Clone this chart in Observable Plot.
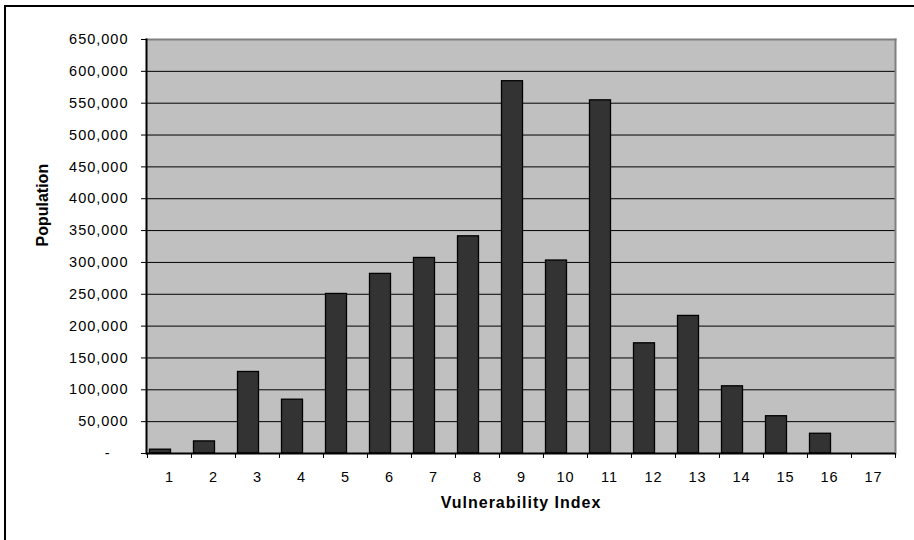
<!DOCTYPE html>
<html><head><meta charset="utf-8">
<script src="https://cdn.jsdelivr.net/npm/d3@7"></script>
<script src="https://cdn.jsdelivr.net/npm/@observablehq/plot@0.6"></script>
<style>
html,body{margin:0;padding:0;background:#fff;}
#wrap{position:relative;width:914px;height:540px;overflow:hidden;}
#wrap svg{display:block;}
#border{position:absolute;left:4px;top:5px;right:-10px;bottom:-10px;border-top:2px solid #000;border-left:2px solid #000;pointer-events:none;}
</style></head><body><div id="wrap"><div id="border"></div></div>
<script>
const indices = ["1","2","3","4","5","6","7","8","9","10","11","12","13","14","15","16","17"];
const population = [6000, 19000, 128000, 84500, 250500, 282000, 307000, 341000, 584500, 303000, 554500, 173000, 216000, 105500, 58500, 31000, 0];
const yTicks = [0, 50000, 100000, 150000, 200000, 250000, 300000, 350000, 400000, 450000, 500000, 550000, 600000, 650000];
const xTitle = "Vulnerability Index";
const yTitle = "Population";

const data = indices.map((k, i) => ({index: k, pop: population[i]}));
const W = 914, H = 540, mL = 146, mR = 19, mT = 39, mB = 87;
const band = (W - mL - mR) / indices.length;
const fmt = d3.format(",");

const chart = Plot.plot({
  width: W, height: H, marginLeft: mL, marginRight: mR, marginTop: mT, marginBottom: mB,
  style: {fontFamily: "Arial, 'Liberation Sans', sans-serif", fontSize: "14.5px", color: "#000", background: "transparent", letterSpacing: "1px"},
  x: {type: "band", domain: indices, padding: 0, label: null, axis: null},
  y: {domain: [0, 650000], label: null, axis: null},
  marks: [
    Plot.frame({fill: "#c0c0c0", stroke: null}),
    Plot.ruleY(yTicks.filter(d => d > 0 && d < 650000), {stroke: "#000", strokeWidth: 1}),
    Plot.frame({anchor: "top", stroke: "#808080", strokeWidth: 2}),
    Plot.frame({anchor: "right", stroke: "#808080", strokeWidth: 2}),
    Plot.barY(data, {x: "index", y: "pop", fill: "#333333", stroke: "#000", strokeWidth: 1.3, insetLeft: 2.5, insetRight: 20.5}),
    Plot.frame({anchor: "left", stroke: "#000", strokeWidth: 2}),
    Plot.ruleY([0], {stroke: "#000", strokeWidth: 2}),
    Plot.axisY({ticks: yTicks.filter(d => d > 0), tickFormat: fmt, tickSize: 5, tickPadding: 13, stroke: "#000"}),
    Plot.axisY({ticks: [0], tickFormat: () => "-", tickSize: 5, tickPadding: 31, stroke: "#000"}),
    Plot.axisX({tickSize: 0, tickPadding: 18}),
    Plot.axisX({tickFormat: () => "", tickSize: 5, dx: -band / 2, stroke: "#000"}),
    Plot.axisX({ticks: [indices[indices.length - 1]], tickFormat: () => "", tickSize: 5, dx: band / 2, stroke: "#000"}),
    Plot.text([yTitle], {frameAnchor: "left", dx: -104, rotate: -90, fontWeight: "bold", fontSize: 16}),
    Plot.text([xTitle], {frameAnchor: "bottom", dy: 54.5, fontWeight: "bold", fontSize: 16})
  ]
});
d3.select(chart).selectAll("text").filter(function() { return this.textContent === yTitle; }).style("letter-spacing", "0px");
document.getElementById("wrap").insertBefore(chart, document.getElementById("border"));
</script>
</body></html>
